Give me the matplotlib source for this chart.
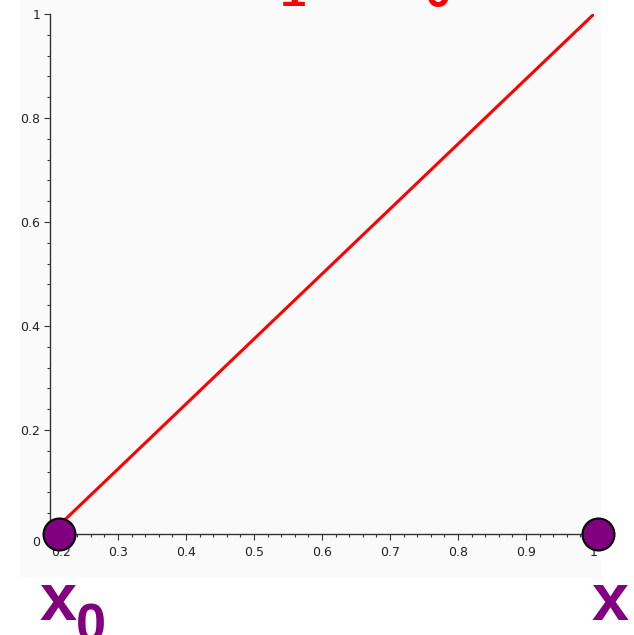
import numpy as np
import matplotlib
matplotlib.use("Agg")
import matplotlib.pyplot as plt
import matplotlib.transforms as mtransforms
from matplotlib.patches import Rectangle

# secant line data
line_x = [0.2, 1.0]
line_y = [0.0, 1.0]

# endpoints on the x axis
point_x = [0.2, 1.0]
point_y = [0.0, 0.0]

x_ticks = [0.2, 0.3, 0.4, 0.5, 0.6, 0.7, 0.8, 0.9, 1.0]
x_labels = ["0.2", "0.3", "0.4", "0.5", "0.6", "0.7", "0.8", "0.9", "1"]
y_ticks = [0.0, 0.2, 0.4, 0.6, 0.8, 1.0]
y_labels = ["0", "0.2", "0.4", "0.6", "0.8", "1"]

W, H = 634, 635
fig = plt.figure(figsize=(W / 100, H / 100), dpi=100)

# faint plot background
fig.patches.append(Rectangle((20 / W, 1 - 577 / H), 581 / W, 577 / H,
                             transform=fig.transFigure, facecolor="#fafafa",
                             edgecolor="none", zorder=-1))

ax = fig.add_axes([50 / W, 1 - 534 / H, 544 / W, 520 / H])
ax.set_zorder(1)
ax.patch.set_visible(False)
ax.set_xlim(0.2, 1.0)
ax.set_ylim(0.0, 1.0)

for s in ["top", "right"]:
    ax.spines[s].set_visible(False)
for s in ["left", "bottom"]:
    ax.spines[s].set_color("#333333")
    ax.spines[s].set_linewidth(1.0)

ax.set_xticks(x_ticks)
ax.set_xticklabels(x_labels)
ax.set_yticks(y_ticks)
ax.set_yticklabels(y_labels)
ax.set_xticks(np.arange(0.2, 1.0001, 0.02), minor=True)
ax.set_yticks(np.arange(0.0, 1.0001, 0.04), minor=True)
ax.tick_params(which="major", length=4, width=0.8, color="#333333",
               labelsize=9, labelcolor="#222222", pad=3)
ax.tick_params(which="minor", length=2.5, width=0.8, color="#333333")
ax.tick_params(axis="x", pad=5)

# nudge the labels at the origin like the original
xl = ax.get_xticklabels()[0]
xl.set_transform(xl.get_transform() + mtransforms.ScaledTranslation(0.11, 0, fig.dpi_scale_trans))
yl = ax.get_yticklabels()[0]
yl.set_transform(yl.get_transform() + mtransforms.ScaledTranslation(0, -0.07, fig.dpi_scale_trans))

ax.plot(line_x, line_y, color="red", linewidth=2.2, solid_capstyle="butt", zorder=3)
ax.plot([point_x[0] + 0.013, point_x[1] + 0.006], point_y, linestyle="none",
        marker="o", markersize=23, markerfacecolor="#800080",
        markeredgecolor="black", markeredgewidth=1.5, clip_on=False, zorder=5)

# labels under the axis
purple = "#800080"
fig.text(40 / W, 1 - 620 / H, "x", color=purple, fontsize=48,
         family="Liberation Sans", weight="bold", ha="left", va="baseline")
fig.text(76 / W, 1 - 642 / H, "0", color=purple, fontsize=39,
         family="Liberation Sans", weight="bold", ha="left", va="baseline")
fig.text(592 / W, 1 - 620 / H, "x", color=purple, fontsize=48,
         family="Liberation Sans", weight="bold", ha="left", va="baseline")

# title parts cut off at the top edge
fig.text(293 / W, 1 - 6 / H, "1", color="red", fontsize=32,
         family="Liberation Mono", weight="bold", ha="center", va="baseline")
fig.text(438 / W, 1 - 7 / H, "0", color="red", fontsize=32,
         family="Liberation Mono", weight="bold", ha="center", va="baseline")

fig.savefig("out.png", dpi=100)
